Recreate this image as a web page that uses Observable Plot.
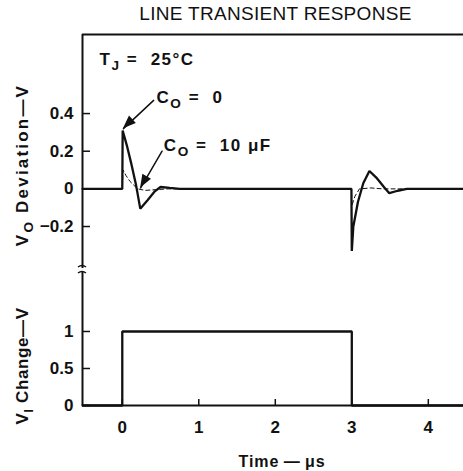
<!DOCTYPE html>
<html>
<head>
<meta charset="utf-8">
<script src="https://cdn.jsdelivr.net/npm/d3@7"></script>
<script src="https://cdn.jsdelivr.net/npm/@observablehq/plot@0.6"></script>
<style>
  body { margin: 0; background: #fff; }
  #wrap { position: relative; width: 463px; height: 471px; font-family: "Liberation Sans", Arial, sans-serif; }
  #wrap svg { position: absolute; left: 0; overflow: visible; }
  #title { position: absolute; top: 3px; left: 85px; width: 381px; text-align: center; font-size: 19px; letter-spacing: 0.3px; color: #111; }
</style>
</head>
<body>
<div id="wrap"><div id="title">LINE TRANSIENT RESPONSE</div></div>
<script>
// ---- data (time in µs) ----
const timeNoCap   = [-0.52, 0, 0.005, 0.06, 0.12, 0.18, 0.235, 0.33, 0.42, 0.5, 0.62, 0.75, 2.995, 3.0, 3.02, 3.08, 3.15, 3.23, 3.32, 3.42, 3.49, 3.6, 3.72, 4.46];
const voNoCap     = [0, 0, 0.31, 0.23, 0.13, 0.02, -0.105, -0.06, -0.015, 0.01, 0.005, 0, 0, -0.33, -0.2, -0.07, 0.03, 0.095, 0.06, 0.01, -0.023, -0.01, 0, 0];
const time10uF    = [-0.52, 0, 0.01, 0.05, 0.1, 0.2, 0.3, 0.45, 0.6, 2.995, 3.0, 3.04, 3.1, 3.25, 3.4, 4.46];
const vo10uF      = [0, 0, 0.1, 0.07, 0.04, 0.0, -0.008, -0.004, 0, 0, -0.09, -0.04, 0, 0.005, 0, 0];
const timeVin     = [-0.52, 0, 0, 3, 3, 4.46];
const viChange    = [0, 0, 1, 1, 0, 0];

const xTicks      = [0, 1, 2, 3, 4];
const yTicksTop   = [-0.2, 0, 0.2, 0.4];
const yTicksBot   = [0, 0.5, 1];
const xDomain     = [-0.52, 4.46];
const yDomainTop  = [-0.423, 0.82];
const yDomainBot  = [0, 1.797];

// annotation anchors (data coords)
const arrowsData = [
  {x1: 0.41, y1: 0.47, x2: 0.015, y2: 0.32},
  {x1: 0.52, y1: 0.20, x2: 0.24, y2: 0.005}
];

const W = 463;
const font = "Liberation Sans, Arial, sans-serif";
const rows = (xs, ys) => xs.map((x, i) => ({x, y: ys[i]}));
const tickFmt = d => d === 0 ? "0" : (d < 0 ? "\u2212" + Math.abs(d) : String(d));

// ---------- upper panel ----------
const topH = 268, topMT = 34;
const plotW = W - 82;
const topPlot = Plot.plot({
  width: W, height: topH,
  marginLeft: 82, marginRight: 0, marginTop: topMT, marginBottom: 0,
  style: {fontFamily: font, overflow: "visible", background: "transparent"},
  x: {domain: xDomain, axis: null},
  y: {domain: yDomainTop, axis: null},
  marks: [
    Plot.ruleX([xDomain[0]], {stroke: "#111", strokeWidth: 2}),
    Plot.ruleY([yDomainTop[1]], {stroke: "#111", strokeWidth: 2}),
    Plot.tickY(yTicksTop, {y: d => d, insetRight: plotW - 8, stroke: "#111", strokeWidth: 1.5}),
    Plot.text(yTicksTop, {x: xDomain[0], y: d => d, text: tickFmt, textAnchor: "end", dx: -9, fontSize: 17, fontWeight: "bold", fill: "#111", letterSpacing: 1.5}),
    Plot.line(rows(time10uF, vo10uF), {x: "x", y: "y", stroke: "#111", strokeWidth: 1, strokeDasharray: "4,3"}),
    Plot.line(rows(timeNoCap, voNoCap), {x: "x", y: "y", stroke: "#111", strokeWidth: 2.3, strokeLinejoin: "miter"}),
    Plot.arrow(arrowsData, {x1: "x1", y1: "y1", x2: "x2", y2: "y2", stroke: "#111", strokeWidth: 1.5, headLength: 0})
  ]
});
topPlot.style.top = "0px";

// ---------- lower panel ----------
const botTop = 272;
const botPlotH = 405 - botTop;
const botPlot = Plot.plot({
  width: W, height: 471 - botTop,
  marginLeft: 82, marginRight: 0, marginTop: 0, marginBottom: (471 - botTop) - botPlotH,
  style: {fontFamily: font, overflow: "visible", background: "transparent"},
  x: {domain: xDomain, axis: null},
  y: {domain: yDomainBot, axis: null},
  marks: [
    Plot.ruleX([xDomain[0]], {stroke: "#111", strokeWidth: 2}),
    Plot.ruleY([yDomainBot[0]], {stroke: "#111", strokeWidth: 2}),
    Plot.tickY(yTicksBot, {y: d => d, insetRight: plotW - 8, stroke: "#111", strokeWidth: 1.5}),
    Plot.tickX(xTicks, {x: d => d, insetTop: botPlotH - 6, stroke: "#111", strokeWidth: 1.5}),
    Plot.text(yTicksBot, {x: xDomain[0], y: d => d, text: tickFmt, textAnchor: "end", dx: -9, fontSize: 17, fontWeight: "bold", fill: "#111", letterSpacing: 1.5}),
    Plot.text(xTicks, {x: d => d, y: yDomainBot[0], text: d => String(d), dy: 22, fontSize: 17, fontWeight: "bold", fill: "#111"}),
    Plot.line(rows(timeVin, viChange), {x: "x", y: "y", stroke: "#111", strokeWidth: 2.3, strokeLinejoin: "miter"})
  ]
});
botPlot.style.top = botTop + "px";

const wrap = document.getElementById("wrap");
wrap.appendChild(topPlot);
wrap.appendChild(botPlot);

// ---------- text with subscripts, arrowheads, axis break ----------
const sx = topPlot.scale("x"), syT = topPlot.scale("y");
const gT = d3.select(topPlot).append("g").attr("font-family", font).attr("fill", "#111").attr("text-anchor", "start").style("white-space", "pre");
const gB = d3.select(botPlot).append("g").attr("font-family", font).attr("fill", "#111").attr("text-anchor", "start").style("white-space", "pre");

function subText(g, x, y, parts, size, rotate, spacing) {
  const t = g.append("text").attr("font-size", size).attr("font-weight", "bold").attr("letter-spacing", spacing || 0);
  if (rotate) t.attr("transform", `translate(${x},${y}) rotate(-90)`).attr("text-anchor", "middle");
  else t.attr("x", x).attr("y", y);
  parts.forEach(([s, sub]) => {
    const ts = t.append("tspan").text(s);
    if (sub) ts.attr("font-size", size * 0.8).attr("dy", size * 0.3);
    else if (sub === false) ts.attr("dy", -size * 0.3);
  });
  return t;
}

// panel annotations
subText(gT, sx.apply(-0.29), syT.apply(0.655), [["T"], ["J", true], [" =  25\u00B0C", false]], 17, false, 1.5);
subText(gT, sx.apply(0.455), syT.apply(0.455), [["C"], ["O", true], [" =  0", false]], 17, false, 1.5);
subText(gT, sx.apply(0.55), syT.apply(0.2), [["C"], ["O", true], [" =  10 \u03BCF", false]], 17, false, 1.5);

// y axis titles
subText(gT, 28, 165, [["V"], ["O", true], [" Deviation\u2014V", false]], 17, true, 2.2);
subText(gB, 28, 366 - botTop, [["V"], ["I", true], [" Change\u2014V", false]], 17, true, 0.6);
// x axis title
gB.append("text").attr("x", 282).attr("y", 467 - botTop).attr("text-anchor", "middle")
  .attr("font-size", 16).attr("font-weight", "bold").attr("letter-spacing", 1).text("Time\u2009\u2014\u2009\u03BCs");

// filled arrowheads
arrowsData.forEach(a => {
  const x1 = sx.apply(a.x1), y1 = syT.apply(a.y1), x2 = sx.apply(a.x2), y2 = syT.apply(a.y2);
  const ang = Math.atan2(y2 - y1, x2 - x1);
  const L = 13, w = 5;
  const bx = x2 - L * Math.cos(ang), by = y2 - L * Math.sin(ang);
  const px = -Math.sin(ang) * w, py = Math.cos(ang) * w;
  gT.append("path").attr("d", `M${x2},${y2}L${bx + px},${by + py}L${bx - px},${by - py}Z`).attr("fill", "#111");
});

// axis break marks
gT.append("path").attr("d", `M78,${topH - 1} q4,-3 8,0`).attr("fill", "none").attr("stroke", "#111").attr("stroke-width", 1.5);
gB.append("path").attr("d", `M78,1 q4,-3 8,0`).attr("fill", "none").attr("stroke", "#111").attr("stroke-width", 1.5);
</script>
</body>
</html>
